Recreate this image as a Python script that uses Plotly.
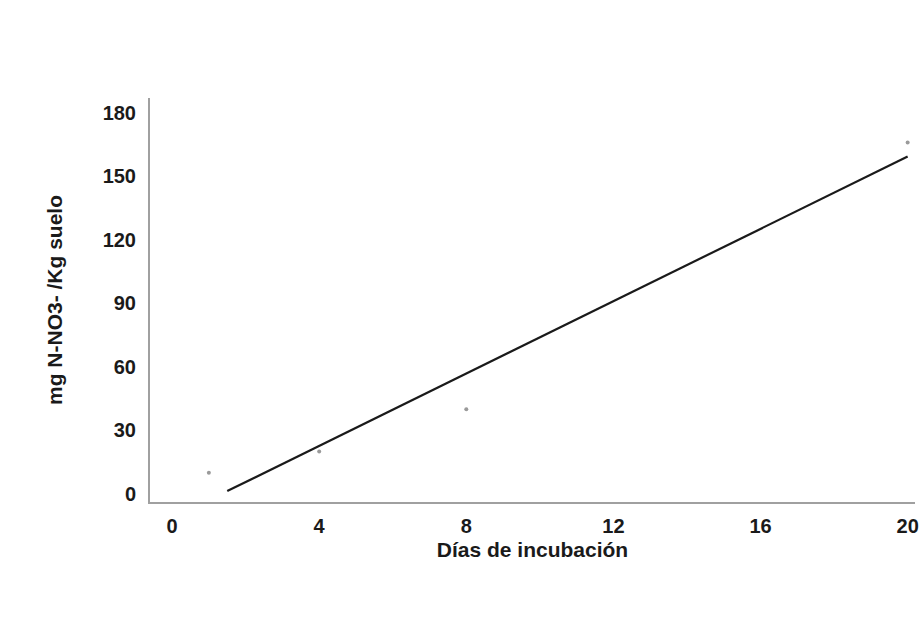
import numpy as np
import plotly.graph_objects as go

dias = [1, 4, 8, 20]
nitrato = [10, 20, 40, 166]
x_ticks = [0, 4, 8, 12, 16, 20]
y_ticks = [0, 30, 60, 90, 120, 150, 180]
fit_x_range = [1.5, 20]

slope, intercept = np.polyfit(dias, nitrato, 1)
fx = np.array(fit_x_range)
fy = slope * fx + intercept

fig = go.Figure()
fig.add_trace(go.Scatter(x=dias, y=nitrato, mode="markers",
                         marker=dict(size=4, color="#9a9a9a"), showlegend=False))
fig.add_trace(go.Scatter(x=fx, y=fy, mode="lines",
                         line=dict(color="#1a1a1a", width=2.2), showlegend=False))

font = dict(family="Liberation Sans, Arial, sans-serif", size=20, color="#1a1a1a")
fig.update_layout(
    width=919, height=627,
    margin=dict(l=150, r=0, t=98, b=125),
    plot_bgcolor="white", paper_bgcolor="white",
    font=font,
    xaxis=dict(range=[-0.6, 20.2], tickvals=x_ticks,
               ticktext=[f"<b>{v}</b>" for v in x_ticks],
               ticklabeloverflow="allow",
               showgrid=False, zeroline=False, showline=True, linecolor="#a0a0a0",
               linewidth=2, ticks="", ticklabelstandoff=5,
               title=dict(text="<b>Días de incubación</b>", standoff=6,
                          font=dict(size=21))),
    yaxis=dict(range=[-3.8, 187], tickvals=y_ticks,
               ticktext=[f"<b>{v}</b>" for v in y_ticks],
               showgrid=False, zeroline=False, showline=True, linecolor="#a0a0a0",
               linewidth=2, ticks="", ticklabelstandoff=8,
               title=dict(text="<b>mg N-NO3- /Kg suelo</b>", standoff=34,
                          font=dict(size=21))),
)
fig.write_html("out.html")
